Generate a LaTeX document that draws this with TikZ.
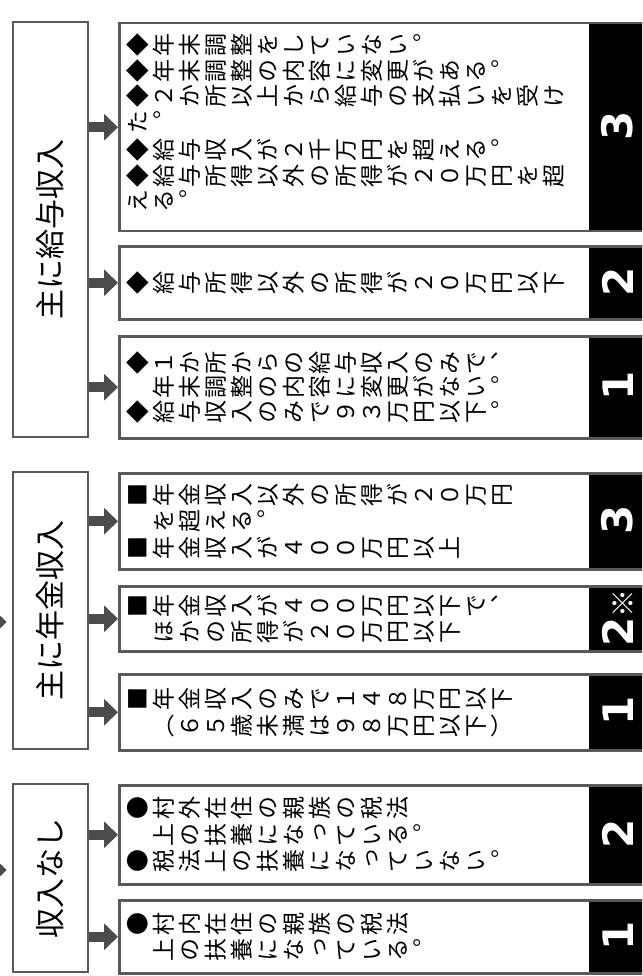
\documentclass[tikz,border=0pt]{standalone}
\usepackage{fontspec}
\usepackage{graphicx}
\usetikzlibrary{arrows.meta}
\newfontfamily\jp{Noto Sans CJK JP}
\newfontfamily\jpv[Vertical=RotatedGlyphs]{Noto Sans CJK JP}
\newfontfamily\numfont{DejaVu Sans}
% one line of vertical text, turned on its side
\def\vtend{\vtend}
\newcommand\vt[1]{\vtloop#1\vtend}
\newcommand\vtloop[1]{\ifx#1\vtend\else\vtchar{#1}\expandafter\vtloop\fi}
\newcommand\vtchar[1]{\makebox[1.13em][c]{\rotatebox[origin=c]{90}{\makebox[1em][c]{\rule[-0.12em]{0pt}{1em}#1}}}}
\begin{document}
\begin{tikzpicture}[x=1pt, y=-1pt,
        headbox/.style={draw=black!65, line width=2.5pt, minimum width=75pt, inner sep=0pt,
            font=\jp\fontsize{30}{30}\selectfont},
        infobox/.style={draw=black!65, line width=2.5pt, minimum width=528pt, inner sep=0pt, anchor=north west},
        numtab/.style={fill=black, minimum width=57pt, inner sep=0pt, anchor=north west, text=white,
            font=\numfont\bfseries\fontsize{42}{42}\selectfont},
        info/.style={anchor=west, align=left, inner sep=0pt, font=\jpv\fontsize{23}{26.5}\selectfont},
        bigarrow/.style={draw=black!70, line width=10pt, -{Triangle[length=14pt, width=26pt]}}]
        \useasboundingbox (0,0) rectangle (642,976);
        \clip (0,0) rectangle (642,976);
        \fill[white] (0,0) rectangle (642,976);

        % headings
        \node[headbox, minimum height=415pt] (kyuyo) at (50.5, 229.5) {\rotatebox{90}{主に給与収入}};
        \node[headbox, minimum height=277pt] (nenkin) at (50.5, 610.5) {\rotatebox{90}{主に年金収入}};
        \node[headbox, minimum height=188pt] (nashi) at (50.5, 878) {\rotatebox{90}{収入なし}};

        % number tabs
        \node[numtab, minimum height=208pt] (k3n) at (589, 22) {\rotatebox{90}{3}};
        \node[numtab, minimum height=73pt] (k2n) at (589, 245) {\rotatebox{90}{2}};
        \node[numtab, minimum height=102pt] (k1n) at (589, 335) {\rotatebox{90}{1}};
        \node[numtab, minimum height=96pt] (n3n) at (589, 472) {\rotatebox{90}{3}};
        \node[numtab, minimum height=65pt] (n2n) at (589, 585) {\rotatebox{90}{2{\jp\bfseries\fontsize{28}{28}\selectfont ※}}};
        \node[numtab, minimum height=76pt] (n1n) at (589, 673) {\rotatebox{90}{1}};
        \node[numtab, minimum height=99pt] (s2n) at (589, 784) {\rotatebox{90}{2}};
        \node[numtab, minimum height=73pt] (s1n) at (589, 899) {\rotatebox{90}{1}};

        % boxes
        \node[infobox, minimum height=208pt] (k3) at (118, 22) {};
        \node[infobox, minimum height=73pt] (k2) at (118, 245) {};
        \node[infobox, minimum height=102pt] (k1) at (118, 335) {};
        \node[infobox, minimum height=96pt] (n3) at (118, 472) {};
        \node[infobox, minimum height=65pt] (n2) at (118, 585) {};
        \node[infobox, minimum height=76pt] (n1) at (118, 673) {};
        \node[infobox, minimum height=99pt] (s2) at (118, 784) {};
        \node[infobox, minimum height=73pt] (s1) at (118, 899) {};

        % texts
        \node[info, font=\jpv\fontsize{23}{25.5}\selectfont] (k3t) at ([xshift=7pt, yshift=4pt]k3.west) {\vt{◆年末調整をしていない。}\\\vt{◆年末調整の内容に変更がある。}\\\vt{◆２か所以上から給与の支払いを受け}\\\vt{た。}\\[3pt]\vt{◆給与収入が２千万円を超える。}\\\vt{◆給与所得以外の所得が２０万円を超}\\\vt{える。}};
        \node[info] (k2t) at ([xshift=7pt]k2.west) {\vt{◆給与所得以外の所得が２０万円以下}};
        \node[info, font=\jpv\fontsize{23}{24.5}\selectfont] (k1t) at ([xshift=7pt]k1.west) {\vt{◆１か所からの給与収入のみで、}\\\vt{　年末調整の内容に変更がない。}\\\vt{◆給与収入のみで９３万円以下。}};
        \node[info] (n3t) at ([xshift=7pt]n3.west) {\vt{■年金収入以外の所得が２０万円}\\\vt{　を超える。}\\\vt{■年金収入が４００万円以上}};
        \node[info] (n2t) at ([xshift=7pt]n2.west) {\vt{■年金収入が４００万円以下で、}\\\vt{　ほかの所得が２０万円以下}};
        \node[info] (n1t) at ([xshift=7pt]n1.west) {\vt{■年金収入のみで１４８万円以下}\\\vt{　（６５歳未満は９８万円以下）}};
        \node[info] (s2t) at ([xshift=7pt]s2.west) {\vt{●村外在住の親族の税法}\\\vt{　上の扶養になっている。}\\\vt{●税法上の扶養になっていない。}};
        \node[info] (s1t) at ([xshift=7pt]s1.west) {\vt{●村内在住の親族の税法}\\\vt{　上の扶養になっている。}};

        % arrows
        \draw[bigarrow] (kyuyo.east |- k3.west) -- (k3.west);
        \draw[bigarrow] (kyuyo.east |- k2.west) -- (k2.west);
        \draw[bigarrow] (kyuyo.east |- k1.west) -- (k1.west);
        \draw[bigarrow] (nenkin.east |- n3.west) -- (n3.west);
        \draw[bigarrow] (nenkin.east |- n2.west) -- (n2.west);
        \draw[bigarrow] (nenkin.east |- n1.west) -- (n1.west);
        \draw[bigarrow] (nashi.east |- s2.west) -- (s2.west);
        \draw[bigarrow] (nashi.east |- s1.west) -- (s1.west);

        \coordinate (from2) at (-30, 622);
        \coordinate (from3) at (-30, 870);
        \draw[bigarrow, shorten >=5pt] (from2) -- (from2 -| nenkin.west);
        \draw[bigarrow, shorten >=5pt] (from3) -- (from3 -| nashi.west);
\end{tikzpicture}
\end{document}
